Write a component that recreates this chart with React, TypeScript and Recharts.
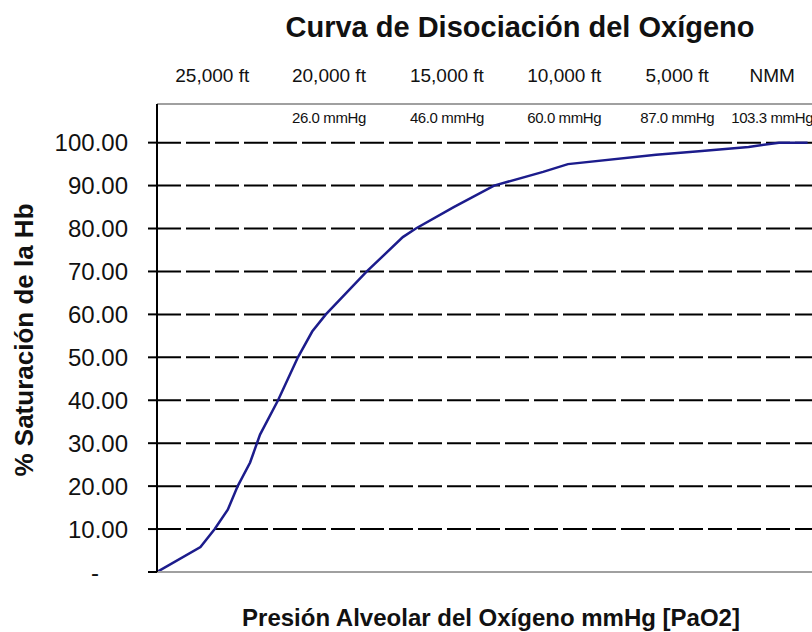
import { LineChart, Line, XAxis, YAxis, CartesianGrid } from "recharts";

const pao2 = [0, 7, 9.3, 11.4, 13, 15, 16.6, 19.5, 22.7, 25, 27.2, 29.5, 33.8, 39.6, 41.7, 47.8, 54.3, 62.2, 66.2, 80.4, 87.3, 95.3, 100.2, 104.8];
const saturation = [0, 5.8, 10, 14.5, 20, 25.5, 32, 40, 50, 56, 60, 63.5, 70, 78, 80, 85, 90, 93.2, 95, 97.2, 98, 99, 100, 100];

const yTicks = [0, 10, 20, 30, 40, 50, 60, 70, 80, 90, 100];

// header columns: altitude and alveolar pressure
const columnAt = [8.9, 27.7, 46.7, 65.6, 83.8, 99.1];
const altitudeLabels = ["25,000 ft", "20,000 ft", "15,000 ft", "10,000 ft", "5,000 ft", "NMM"];
const pressureLabels = ["", "26.0 mmHg", "46.0 mmHg", "60.0 mmHg", "87.0 mmHg", "103.3 mmHg"];

const data = pao2.map((p, i) => ({ pao2: p, sat: saturation[i] }));

const FONT = "'Liberation Sans', Arial, sans-serif";

function HeaderTick(props: any) {
  const { x, index } = props;
  return (
    <g>
      <text x={x} y={82} textAnchor="middle" fontSize={19} fontFamily={FONT} fill="#111">
        {altitudeLabels[index]}
      </text>
      {pressureLabels[index] && (
        <text x={x} y={123} textAnchor="middle" fontSize={15} fontFamily={FONT} fill="#111" letterSpacing={-0.4}>
          {pressureLabels[index]}
        </text>
      )}
    </g>
  );
}

function YTick(props: any) {
  const { x, y, payload } = props;
  const v = payload.value;
  if (v === 0) {
    return (
      <text x={x - 29} y={y} dy={9} textAnchor="end" fontSize={24} fontFamily={FONT} fill="#111">
        -
      </text>
    );
  }
  return (
    <text x={x} y={y} dy="0.355em" textAnchor="end" fontSize={24} fontFamily={FONT} fill="#111">
      {v.toFixed(2)}
    </text>
  );
}

export default function App() {
  return (
    <div style={{ position: "absolute", left: 0, top: 0, width: 812, height: 632, overflow: "hidden", background: "#fff" }}>
      <LineChart width={830} height={632} data={data} margin={{ top: 64, right: 15, bottom: 58, left: 0 }}>
        <CartesianGrid horizontal vertical={false} stroke="#000" strokeWidth={2} strokeDasharray="24 5" />
        <XAxis
          dataKey="pao2"
          type="number"
          domain={[0, 106]}
          allowDataOverflow
          tick={false}
          tickLine={false}
          height={2}
          axisLine={{ stroke: "#a0a0a0", strokeWidth: 2 }}
        />
        <XAxis
          xAxisId="top"
          orientation="top"
          dataKey="pao2"
          type="number"
          domain={[0, 106]}
          allowDataOverflow
          ticks={columnAt}
          interval={0}
          tick={<HeaderTick />}
          tickLine={false}
          height={40}
          axisLine={{ stroke: "#a0a0a0", strokeWidth: 2 }}
        />
        <YAxis
          type="number"
          domain={[0, 109]}
          allowDataOverflow
          ticks={yTicks}
          interval={0}
          width={157}
          tickSize={9}
          tickMargin={20}
          tick={<YTick />}
          tickLine={{ stroke: "#000", strokeWidth: 2 }}
          axisLine={{ stroke: "#000", strokeWidth: 2 }}
          label={{
            content: () => (
              <text
                x={24}
                y={340}
                transform="rotate(-90 24 340)"
                textAnchor="middle"
                dominantBaseline="central"
                fontSize={26}
                fontWeight="bold"
                fontFamily={FONT}
                fill="#111"
              >
                % Saturación de la Hb
              </text>
            ),
          }}
        />
        <Line
          type="linear"
          dataKey="sat"
          stroke="#1c1c8c"
          strokeWidth={2.5}
          dot={false}
          isAnimationActive={false}
        />
      </LineChart>
      <svg width={812} height={632} style={{ position: "absolute", left: 0, top: 0, pointerEvents: "none" }}>
        <text x={520} y={37} textAnchor="middle" fontSize={29} fontWeight="bold" fontFamily={FONT} fill="#111">
          Curva de Disociación del Oxígeno
        </text>
        <text x={491} y={626} textAnchor="middle" fontSize={24} fontWeight="bold" fontFamily={FONT} fill="#111">
          Presión Alveolar del Oxígeno mmHg [PaO2]
        </text>
      </svg>
    </div>
  );
}
